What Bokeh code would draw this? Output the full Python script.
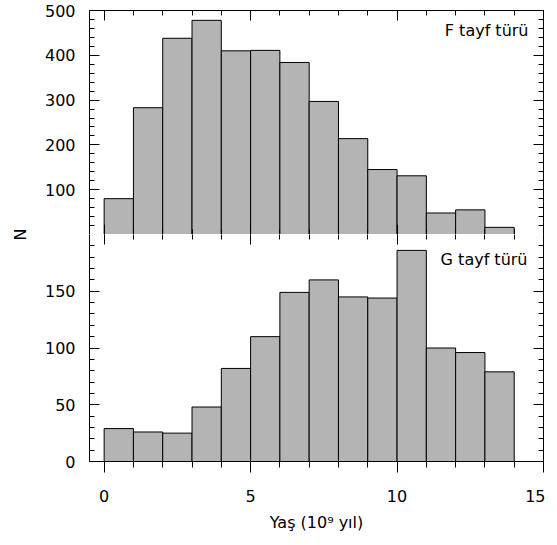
import math
from bokeh.plotting import figure
from bokeh.layouts import row, column
from bokeh.models import Range1d, LinearAxis, FixedTicker, Label, CustomLabelingPolicy
from bokeh.embed import file_html
from bokeh.resources import INLINE

# ---- data ----
bin_left = [0, 1, 2, 3, 4, 5, 6, 7, 8, 9, 10, 11, 12, 13]
bin_right = [1, 2, 3, 4, 5, 6, 7, 8, 9, 10, 11, 12, 13, 14]
f_counts = [80, 283, 438, 478, 410, 411, 384, 297, 214, 145, 131, 48, 55, 16]
g_counts = [29, 26, 25, 48, 82, 110, 149, 160, 145, 144, 186, 100, 96, 79]
x_major = [0, 5, 10, 15]
f_ticks = [100, 200, 300, 400, 500]
g_ticks = [0, 50, 100, 150]
f_label = "F tayf türü"
g_label = "G tayf türü"
x_title = "Yaş (10⁹ yıl)"
y_title = "N"

FONT = "DejaVu Sans"
FS = "16px"
BAR_FILL = "#b4b4b4"

HIDE_LABELS = "for (const i of [...indices]) indices.unset(i); return indices;"


def style_axis(ax, major, minor, inward=True, labels=False, line=True):
    ax.ticker = FixedTicker(ticks=major, minor_ticks=minor)
    ax.axis_line_color = "black" if line else None
    ax.major_tick_line_color = "black"
    ax.minor_tick_line_color = "black"
    if inward:
        ax.major_tick_in, ax.major_tick_out = 10, 0
        ax.minor_tick_in, ax.minor_tick_out = 5, 0
    else:
        ax.major_tick_in, ax.major_tick_out = 0, 11
        ax.minor_tick_in, ax.minor_tick_out = 0, 6
    if labels:
        ax.major_label_text_font = FONT
        ax.major_label_text_font_size = FS
        ax.major_label_text_color = "black"
    else:
        ax.major_label_text_font_size = "0px"
        ax.major_label_standoff = 0
        ax.major_label_policy = CustomLabelingPolicy(code=HIDE_LABELS)


def no_grid(p):
    for g in p.xgrid + p.ygrid:
        g.visible = False


x_minor = list(range(0, 16))
f_minor = list(range(20, 500, 20))
g_minor = list(range(10, 200, 10))

common = dict(output_backend="svg", toolbar_location=None,
              x_axis_location=None, y_axis_location=None,
              frame_width=454,
              min_border_left=49, min_border_right=2,
              outline_line_color=None, background_fill_color="white")

# ---- top panel (F) ----
p1 = figure(x_range=Range1d(-0.5, 15), y_range=Range1d(0, 500),
            frame_height=224, min_border_top=10, min_border_bottom=0, **common)
no_grid(p1)
p1.quad(left=bin_left, right=bin_right, bottom=0, top=f_counts,
        fill_color=BAR_FILL, line_color="black", line_width=1)

ax = LinearAxis(); style_axis(ax, f_ticks, f_minor, True, True)
ax.major_label_standoff = 14
p1.add_layout(ax, "left")
ax = LinearAxis(); style_axis(ax, f_ticks, f_minor, True, False)
p1.add_layout(ax, "right")
ax = LinearAxis(); style_axis(ax, x_major, x_minor, True, False)
p1.add_layout(ax, "above")
ax = LinearAxis(); style_axis(ax, x_major, x_minor, True, False)
p1.add_layout(ax, "below")

p1.add_layout(Label(x=15, y=500, x_offset=-15, y_offset=-10, text=f_label,
                    text_align="right", text_baseline="top",
                    text_font=FONT, text_font_size=FS, text_color="black"))

# ---- bottom panel (G) ----
p2 = figure(x_range=p1.x_range, y_range=Range1d(0, 200),
            frame_height=227, min_border_top=0, min_border_bottom=0, **common)
no_grid(p2)
p2.quad(left=bin_left, right=bin_right, bottom=0, top=g_counts,
        fill_color=BAR_FILL, line_color="black", line_width=1)

ax = LinearAxis(); style_axis(ax, g_ticks, g_minor, True, True)
ax.major_label_standoff = 14
p2.add_layout(ax, "left")
ax = LinearAxis(); style_axis(ax, g_ticks, g_minor, True, False)
p2.add_layout(ax, "right")
ax = LinearAxis(); style_axis(ax, x_major, x_minor, True, False, line=False)
p2.add_layout(ax, "above")
ax = LinearAxis(); style_axis(ax, x_major, x_minor, False, True)
ax.major_label_standoff = 17
ax.axis_label = x_title
ax.axis_label_text_font = FONT
ax.axis_label_text_font_size = FS
ax.axis_label_text_font_style = "normal"
ax.axis_label_text_color = "black"
ax.axis_label_standoff = 8
p2.add_layout(ax, "below")

p2.add_layout(Label(x=15, y=200, x_offset=-16, y_offset=-15, text=g_label,
                    text_align="right", text_baseline="top",
                    text_font=FONT, text_font_size=FS, text_color="black"))

# ---- shared y title ----
pl = figure(width=40, height=468, x_range=Range1d(-1, 1), y_range=Range1d(-1, 1),
            output_backend="svg", toolbar_location=None,
            x_axis_location=None, y_axis_location=None,
            min_border=0, outline_line_color=None)
no_grid(pl)
pl.add_layout(Label(x=0, y=0, text=y_title, angle=math.pi / 2,
                    text_align="center", text_baseline="middle",
                    text_font=FONT, text_font_size=FS, text_color="black"))

layout = row(pl, column(p1, p2))
open("out.html", "w").write(file_html(layout, INLINE))
